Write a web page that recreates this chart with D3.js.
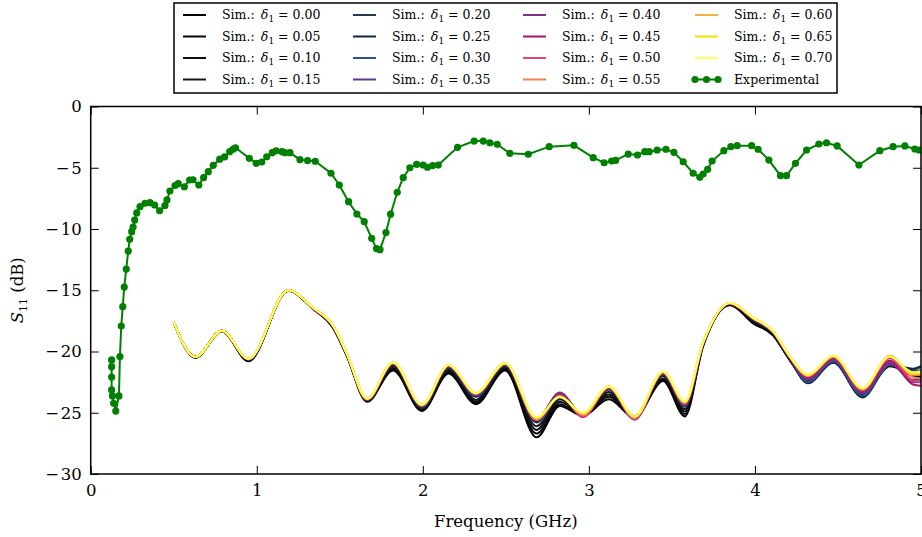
<!DOCTYPE html>
<html><head><meta charset="utf-8">
<script src="https://cdn.jsdelivr.net/npm/d3@7"></script>
<style>body{margin:0;background:#fff}svg{display:block}text{font-family:"DejaVu Serif",serif}</style>
</head><body><svg id="c" width="922" height="537"></svg>
<script>
// ---- data ----
const expFreq = [0.126,0.126,0.126,0.126,0.131,0.138,0.151,0.170,0.176,0.184,0.193,0.202,0.214,0.226,0.235,0.247,0.255,0.265,0.277,0.297,0.327,0.357,0.385,0.415,0.447,0.459,0.477,0.508,0.527,0.564,0.596,0.616,0.651,0.680,0.708,0.738,0.777,0.806,0.837,0.857,0.872,0.955,0.997,1.030,1.060,1.093,1.116,1.152,1.170,1.200,1.260,1.306,1.352,1.447,1.497,1.553,1.603,1.647,1.692,1.721,1.742,1.778,1.806,1.846,1.882,1.922,1.963,2.002,2.028,2.059,2.093,2.209,2.309,2.364,2.404,2.448,2.524,2.635,2.761,2.910,3.026,3.092,3.137,3.161,3.237,3.293,3.337,3.363,3.411,3.464,3.512,3.568,3.628,3.668,3.688,3.715,3.742,3.813,3.855,3.893,3.980,4.019,4.084,4.154,4.190,4.244,4.311,4.385,4.431,4.495,4.626,4.752,4.832,4.903,4.963,4.989];
const expS11 = [-20.69,-21.24,-22.08,-23.14,-23.63,-24.23,-24.86,-23.63,-20.41,-17.92,-16.34,-14.74,-13.27,-11.80,-10.84,-10.22,-9.84,-9.27,-8.69,-8.18,-7.90,-7.85,-8.04,-8.51,-8.08,-7.63,-6.90,-6.45,-6.30,-6.55,-6.00,-5.98,-6.41,-5.81,-5.32,-4.80,-4.30,-4.12,-3.69,-3.49,-3.37,-4.23,-4.64,-4.53,-4.10,-3.77,-3.62,-3.69,-3.77,-3.77,-4.34,-4.41,-4.47,-5.45,-6.41,-7.77,-8.78,-9.40,-10.76,-11.60,-11.69,-10.29,-8.79,-7.00,-5.81,-5.00,-4.72,-4.78,-4.96,-4.82,-4.78,-3.33,-2.82,-2.82,-2.96,-3.09,-3.82,-3.90,-3.28,-3.17,-4.18,-4.59,-4.45,-4.40,-3.88,-3.96,-3.69,-3.69,-3.55,-3.49,-3.74,-4.51,-5.45,-5.78,-5.51,-5.13,-4.45,-3.61,-3.28,-3.20,-3.20,-3.49,-4.37,-5.65,-5.65,-4.64,-3.55,-3.06,-2.96,-3.22,-4.78,-3.61,-3.28,-3.22,-3.47,-3.55];

const simFreq = [0.50,0.63,0.79,0.95,1.19,1.34,1.46,1.54,1.665,1.82,1.995,2.155,2.32,2.495,2.685,2.825,2.965,3.12,3.275,3.447,3.578,3.687,3.849,3.989,4.11,4.21,4.32,4.471,4.648,4.812,4.952,5.0];
const delta = ["0.00","0.05","0.10","0.15","0.20","0.25","0.30","0.35","0.40","0.45","0.50","0.55","0.60","0.65","0.70"];
const simColors = ["#000000","#060608","#0c0c12","#15151f","#223a52","#102540","#30508a","#5a3a8c","#7e3480","#a3186c","#e6407a","#f47e52","#f8b040","#f5e000","#ffff55"];
const sim000 = [-17.65,-20.5,-18.35,-20.8,-15.05,-16.55,-18.1,-20.3,-24.1,-21.55,-24.85,-21.8,-24.3,-21.55,-27.0,-24.45,-25.25,-23.9,-25.4,-22.4,-25.3,-19.6,-16.2,-17.7,-18.7,-20.7,-22.5,-20.9,-23.6,-21.2,-21.9,-22.0];
const sim005 = [-17.65,-20.5,-18.35,-20.75,-15.05,-16.5,-18.05,-20.25,-24.05,-21.45,-24.8,-21.7,-24.2,-21.45,-26.7,-24.3,-25.2,-23.7,-25.35,-22.3,-25.1,-19.55,-16.2,-17.6,-18.65,-20.7,-22.45,-20.85,-23.55,-21.15,-21.95,-22.05];
const sim010 = [-17.6,-20.45,-18.3,-20.7,-15.0,-16.5,-18.0,-20.2,-24.0,-21.35,-24.7,-21.6,-24.1,-21.35,-26.4,-24.1,-25.15,-23.5,-25.3,-22.2,-24.9,-19.5,-16.15,-17.5,-18.6,-20.65,-22.4,-20.8,-23.5,-21.1,-22.0,-22.1];
const sim015 = [-17.6,-20.45,-18.3,-20.7,-15.0,-16.5,-18.0,-20.2,-23.95,-21.2,-24.6,-21.45,-23.95,-21.25,-26.1,-23.9,-25.1,-23.3,-25.3,-22.0,-24.7,-19.45,-16.15,-17.45,-18.55,-20.65,-22.5,-20.8,-23.6,-21.05,-21.8,-21.9];
const sim020 = [-17.6,-20.45,-18.3,-20.65,-15.0,-16.5,-17.95,-20.15,-23.95,-21.1,-24.6,-21.35,-23.7,-21.15,-25.8,-23.5,-25.1,-23.1,-25.35,-21.9,-24.5,-19.4,-16.1,-17.4,-18.5,-20.6,-22.55,-20.85,-23.75,-21.1,-21.4,-21.2];
const sim025 = [-17.6,-20.45,-18.3,-20.65,-15.0,-16.5,-17.95,-20.15,-23.95,-21.05,-24.55,-21.3,-23.65,-21.1,-25.7,-23.45,-25.15,-23.05,-25.35,-21.85,-24.45,-19.4,-16.1,-17.4,-18.5,-20.6,-22.6,-20.9,-23.7,-21.05,-21.45,-21.25];
const sim030 = [-17.6,-20.45,-18.3,-20.65,-15.0,-16.5,-17.95,-20.15,-23.95,-21.0,-24.5,-21.25,-23.6,-21.1,-25.6,-23.4,-25.2,-23.0,-25.4,-21.8,-24.4,-19.4,-16.1,-17.35,-18.45,-20.55,-22.5,-20.8,-23.6,-21.1,-21.6,-21.5];
const sim035 = [-17.6,-20.45,-18.3,-20.65,-15.0,-16.5,-17.95,-20.15,-23.95,-21.0,-24.45,-21.2,-23.55,-21.05,-25.55,-23.35,-25.25,-22.95,-25.5,-21.8,-24.35,-19.4,-16.1,-17.35,-18.45,-20.5,-22.3,-20.7,-23.4,-21.0,-22.3,-22.3];
const sim040 = [-17.6,-20.45,-18.3,-20.65,-15.0,-16.5,-17.95,-20.15,-23.95,-21.0,-24.45,-21.2,-23.5,-21.05,-25.55,-23.4,-25.3,-22.95,-25.55,-21.8,-24.35,-19.4,-16.1,-17.35,-18.45,-20.5,-22.25,-20.65,-23.35,-20.9,-22.5,-22.5];
const sim045 = [-17.6,-20.45,-18.3,-20.65,-15.0,-16.5,-17.95,-20.15,-23.95,-20.95,-24.4,-21.15,-23.5,-21.0,-25.6,-23.5,-25.35,-22.95,-25.55,-21.75,-24.3,-19.35,-16.1,-17.3,-18.4,-20.45,-22.15,-20.55,-23.3,-20.75,-22.7,-22.8];
const sim050 = [-17.6,-20.45,-18.3,-20.6,-15.0,-16.45,-17.9,-20.1,-23.9,-20.95,-24.4,-21.15,-23.45,-21.0,-25.6,-23.6,-25.3,-22.9,-25.5,-21.7,-24.25,-19.35,-16.05,-17.3,-18.4,-20.45,-22.05,-20.45,-23.15,-20.55,-22.4,-22.5];
const sim055 = [-17.6,-20.45,-18.3,-20.6,-15.0,-16.45,-17.9,-20.1,-23.9,-20.9,-24.4,-21.1,-23.45,-20.95,-25.55,-23.65,-25.2,-22.9,-25.45,-21.7,-24.2,-19.3,-16.05,-17.25,-18.35,-20.4,-22.0,-20.4,-23.1,-20.35,-22.1,-22.2];
const sim060 = [-17.6,-20.45,-18.3,-20.6,-15.0,-16.45,-17.9,-20.1,-23.85,-20.9,-24.35,-21.1,-23.4,-20.95,-25.45,-23.7,-25.1,-22.85,-25.35,-21.65,-24.15,-19.3,-16.05,-17.25,-18.35,-20.4,-21.95,-20.4,-23.05,-20.35,-21.9,-21.9];
const sim065 = [-17.6,-20.45,-18.3,-20.6,-15.0,-16.45,-17.9,-20.1,-23.85,-20.9,-24.35,-21.1,-23.4,-20.95,-25.4,-23.7,-25.05,-22.85,-25.3,-21.65,-24.1,-19.3,-16.05,-17.25,-18.35,-20.4,-21.9,-20.35,-23.0,-20.4,-21.8,-21.75];
const sim070 = [-17.6,-20.45,-18.3,-20.6,-15.0,-16.45,-17.9,-20.1,-23.85,-20.9,-24.35,-21.1,-23.4,-20.95,-25.4,-23.7,-25.0,-22.85,-25.3,-21.65,-24.1,-19.3,-16.05,-17.25,-18.35,-20.4,-21.9,-20.35,-23.0,-20.4,-21.7,-21.6];
const simSeries = [sim000,sim005,sim010,sim015,sim020,sim025,sim030,sim035,sim040,sim045,sim050,sim055,sim060,sim065,sim070];
const xTicks = [0,1,2,3,4,5];
const yTicks = [0,-5,-10,-15,-20,-25,-30];

// ---- chart ----
const svg = d3.select("#c");
const L = 90.7, R = 921, T = 106.5, B = 474;
const x = d3.scaleLinear().domain([0,5]).range([L,R]);
const y = d3.scaleLinear().domain([-30,0]).range([B,T]);
const green = "#008000";

svg.append("defs").append("clipPath").attr("id","clip")
  .append("rect").attr("x",L).attr("y",T).attr("width",R-L).attr("height",B-T);

const plot = svg.append("g").attr("clip-path","url(#clip)");
const line = d3.line().x(d=>x(d[0])).y(d=>y(d[1])).curve(d3.curveMonotoneX);
simSeries.forEach((s,i)=>{
  plot.append("path").datum(simFreq.map((f,j)=>[f,s[j]]))
    .attr("d",line).attr("fill","none").attr("stroke",simColors[i]).attr("stroke-width",2);
});
const expPts = expFreq.map((f,j)=>[f,expS11[j]]);
plot.append("path").datum(expPts)
  .attr("d",d3.line().x(d=>x(d[0])).y(d=>y(d[1]))).attr("fill","none").attr("stroke",green).attr("stroke-width",2);
plot.selectAll("circle.e").data(expPts).join("circle").attr("class","e")
  .attr("cx",d=>x(d[0])).attr("cy",d=>y(d[1])).attr("r",3.6).attr("fill",green);

// axes
const fmt = d => d<0 ? "\u2212\u200A"+Math.abs(d) : String(d);
const tk = 8;
const gx = svg.append("g").attr("transform",`translate(0,${B})`).call(d3.axisBottom(x).tickValues(xTicks).tickFormat(fmt).tickSize(-tk).tickPadding(10));
const gxt = svg.append("g").attr("transform",`translate(0,${T})`).call(d3.axisTop(x).tickValues(xTicks).tickFormat("").tickSize(-tk));
const gy = svg.append("g").attr("transform",`translate(${L},0)`).call(d3.axisLeft(y).tickValues(yTicks).tickFormat(fmt).tickSize(-tk).tickPadding(9));
const gyr = svg.append("g").attr("transform",`translate(${R},0)`).call(d3.axisRight(y).tickValues(yTicks).tickFormat("").tickSize(-tk));
[gx,gxt,gy,gyr].forEach(g=>{g.select(".domain").remove(); g.selectAll("line").attr("stroke","#000").attr("stroke-width",1);
  g.selectAll("text").attr("font-family","DejaVu Serif").attr("font-size",16.5).attr("fill","#000");});
svg.append("rect").attr("x",L).attr("y",T).attr("width",R-L).attr("height",B-T).attr("fill","none").attr("stroke","#000").attr("stroke-width",1.5);

svg.append("text").attr("x",(L+R)/2).attr("y",527).attr("text-anchor","middle").attr("font-size",16.5).text("Frequency (GHz)");
const yl = svg.append("text").attr("transform",`translate(23,${(T+B)/2}) rotate(-90)`).attr("text-anchor","middle").attr("font-size",16.5);
yl.append("tspan").attr("font-style","italic").text("S");
yl.append("tspan").attr("font-size",11).attr("dy",4).text("11");
yl.append("tspan").attr("dy",-4).text(" (dB)");

// legend
const lg = svg.append("g");
lg.append("rect").attr("x",174).attr("y",3).attr("width",663).attr("height",90).attr("fill","#fff").attr("stroke","#000").attr("stroke-width",1.5);
const colX = [183,353,523,695], rowY = [14,35.5,57,78.5];
const items = delta.map((d,i)=>({label:d,color:simColors[i]})).concat([{label:null,color:green}]);
items.forEach((it,i)=>{
  const c = Math.floor(i/4), r = i%4;
  const gx0 = colX[c], gy0 = rowY[r];
  const g = lg.append("g");
  g.append("line").attr("x1",gx0).attr("x2",gx0+23).attr("y1",gy0+1).attr("y2",gy0+1).attr("stroke",it.color).attr("stroke-width",2);
  const t = g.append("text").attr("x",gx0+39).attr("y",gy0+5).attr("font-size",12.5);
  if(it.label===null){
    [0,11.5,23].forEach(o=>g.append("circle").attr("cx",gx0+o).attr("cy",gy0+1).attr("r",3.6).attr("fill",green));
    t.text("Experimental");
  } else {
    t.append("tspan").text("Sim.:\u2002");
    t.append("tspan").attr("font-style","italic").text("\u03B4");
    t.append("tspan").attr("font-size",9).attr("dy",3).text("1");
    t.append("tspan").attr("dy",-3).text(" = "+it.label);
  }
});
</script></body></html>
